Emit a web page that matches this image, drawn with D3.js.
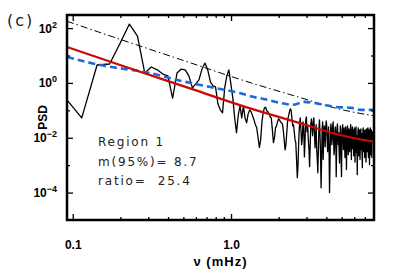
<!DOCTYPE html>
<html>
<head>
  <meta charset="utf-8">
  <title>PSD Region 1</title>
  <script src="https://d3js.org/d3.v7.min.js"></script>
</head>

<style>
body { margin: 0; background: white; }
text { font-family: "Liberation Sans", Arial, sans-serif; }
.ticklab { font-size: 12px; font-weight: bold; }
.note { font-family: "DejaVu Sans", sans-serif; font-size: 12px; fill: #222; white-space: pre; letter-spacing: 1.8px; }
</style>

<body>
</body>
<script>

  // frequency grid of the spectrum (mHz): first bin index and bin width
  var firstBin = 3;
  var binWidth = 0.0285;

  // observed PSD, one value per frequency bin
  var psd = [
    0.40, 0.053, 4.5, 4.9, 28.5, 140, 51, 2.3, 3.8, 3.0, 2.1, 1.8, 0.28, 2.3, 3.2, 3.0, 1.8,
    0.66, 0.92, 1.29, 3.2, 5.3, 2.97, 1.09, 0.78, 0.72, 0.17,
    0.104, 0.081, 0.66, 1.8, 2.97, 0.92, 0.285, 0.053, 0.0152, 0.069,
    0.146, 0.053, 0.146, 0.053, 0.035, 0.074, 0.104, 0.088, 0.063, 0.045,
    0.030, 0.023, 0.010, 0.0044, 0.0085, 0.038, 0.081, 0.123, 0.13, 0.096,
    0.088, 0.074, 0.058, 0.053, 0.0195, 0.0066, 0.010, 0.023, 0.027, 0.038,
    0.049, 0.045, 0.038, 0.035, 0.033, 0.0195, 0.0085, 0.0036, 0.0056, 0.0165,
    0.045, 0.063, 0.088, 0.113, 0.104, 0.053, 0.027, 0.030, 0.0165, 0.0085,
    0.0066, 0.0016, 0.00035, 0.00105, 0.0085,
    0.030, 0.053, 0.0195, 0.0056, 0.010,
    0.038, 0.023, 0.0020, 0.0085, 0.045,
    0.058, 0.0165, 0.027, 0.0085, 0.0037,
    0.00088, 0.0056, 0.032, 0.049, 0.023,
    0.0118, 0.038, 0.053, 0.018, 0.0043,
    0.010, 0.030, 0.0037, 0.0016, 0.00053,
    0.0037, 0.023, 0.045, 0.0129, 0.0024,
    0.00015, 0.0016, 0.0195, 0.038, 0.0016,
    0.0085, 0.027, 0.015, 0.0047, 0.023,
    0.041, 0.030, 0.0085, 0.0031, 0.0129,
    0.025, 0.0037, 0.0001, 0.00104, 0.0165,
    0.032, 0.0195, 0.0056, 0.010, 0.027,
    0.038, 0.0085, 0.0024, 0.0043, 0.018,
    0.025, 0.0129, 0.00038, 0.0037, 0.023,
    0.032, 0.010, 0.0056, 0.015, 0.0037,
    0.0012, 0.0085, 0.027, 0.018, 0.0016,
    0.00038, 0.0072, 0.021, 0.030, 0.010,
    0.0037, 0.014, 0.023, 0.0056, 0.0019,
    0.0085, 0.025, 0.0129, 0.00069, 0.0043,
    0.018, 0.027, 0.0072, 0.0024, 0.010,
    0.021, 0.0109, 0.0031, 0.0051, 0.0195,
    0.030, 0.0078, 0.0016, 0.0066, 0.0165,
    0.025, 0.0040, 0.010, 0.0195, 0.0022,
    0.0056, 0.023, 0.014, 0.0013, 0.0037,
    0.018, 0.025, 0.0061, 0.0028, 0.0118,
    0.00045, 0.0037, 0.015, 0.023, 0.0072,
    0.0022, 0.0092, 0.0195, 0.0118, 0.0016,
    0.0047, 0.0165, 0.021, 0.0037, 0.0078,
    0.014, 0.0024, 0.00081, 0.0085, 0.0195,
    0.023, 0.0066, 0.0031, 0.0109, 0.018,
    0.0019, 0.0056, 0.0195, 0.0129, 0.0040,
    0.0013, 0.0078, 0.021, 0.015, 0.0031,
    0.0051, 0.0165, 0.023, 0.0037, 0.0019,
    0.0109, 0.0195, 0.0056, 0.00104, 0.0085,
    0.018, 0.023, 0.0043, 0.0024, 0.0118,
    0.0195, 0.0072, 0.0019, 0.0129, 0.0165,
    0.0085
  ];

  // fitted background (red)
  var fitFreq = [0.092, 0.217, 0.516, 1.23, 2.69, 4.80, 8.0];
  var fitPsd  = [20.4, 3.8, 0.715, 0.134, 0.035, 0.0129, 0.0072];

  // 95% confidence level (dash-dot)
  var confFreq = [0.092, 0.217, 0.516, 1.23, 2.69, 4.80, 8.0];
  var confPsd  = [177, 33, 6.2, 1.17, 0.30, 0.112, 0.063];

  // blue dashed curve
  var blueFreq = [0.092, 0.149, 0.306, 0.516, 0.786, 1.13, 1.38, 1.71, 2.04, 2.46, 2.89, 3.34, 3.86, 4.47, 5.8, 6.6, 8.0];
  var bluePsd  = [8.8, 4.5, 2.31, 1.09, 0.66, 0.43, 0.31, 0.24, 0.187, 0.159, 0.203, 0.187, 0.159, 0.134, 0.123, 0.104, 0.104];

  var xMajor = [0.1, 1];
  var xMinor = [0.2, 0.3, 0.4, 0.5, 0.6, 0.7, 0.8, 0.9, 2, 3, 4, 5, 6, 7];
  var yMajor = [1e2, 1e0, 1e-2, 1e-4];
  var yMinor = [1e1, 1e-1, 1e-3];
  var yExp = {"100": "2", "1": "0", "0.01": "\u22122", "0.0001": "\u22124"};

  var noteLines = ["Region 1", "m(95%)= 8.7", "ratio=  25.4"];

  var W = 393, H = 275;
  var margin = {top: 15, right: 19, bottom: 55, left: 67}
    , width = W - margin.left - margin.right
    , height = H - margin.top - margin.bottom;

  var xScale = d3.scaleLog().domain([0.092, 8]).range([0, width]);
  var yScale = d3.scaleLog().domain([1e-5, 300]).range([height, 0]);

  var svg = d3.select('body').append('svg')
    .attr('width', W)
    .attr('height', H)
    .append('g')
      .attr('transform', 'translate(' + margin.left + ',' + margin.top + ')');

  svg.append('clipPath').attr('id', 'clip')
    .append('rect').attr('width', width).attr('height', height);

  var spectrum = psd.map(function(v, i) { return {f: (firstBin + i) * binWidth, v: v}; });
  function pairs(fs, vs) { return fs.map(function(f, i) { return {f: f, v: vs[i]}; }); }

  var line = d3.line()
    .x(function(d) { return xScale(d.f); })
    .y(function(d) { return yScale(d.v); });
  var smooth = d3.line()
    .x(function(d) { return xScale(d.f); })
    .y(function(d) { return yScale(d.v); })
    .curve(d3.curveMonotoneX);

  var plot = svg.append('g').attr('clip-path', 'url(#clip)');

  plot.append('path')
    .datum(spectrum)
    .attr('d', line)
    .attr('fill', 'none')
    .attr('stroke', '#000')
    .attr('stroke-width', 1.3)
    .attr('stroke-linejoin', 'round');

  plot.append('path')
    .datum(pairs(confFreq, confPsd))
    .attr('d', smooth)
    .attr('fill', 'none')
    .attr('stroke', '#000')
    .attr('stroke-width', 1)
    .attr('stroke-dasharray', '7,3,1.5,3');

  plot.append('path')
    .datum(pairs(blueFreq, bluePsd))
    .attr('d', smooth)
    .attr('fill', 'none')
    .attr('stroke', '#1f6ad8')
    .attr('stroke-width', 2.6)
    .attr('stroke-dasharray', '7,4');

  plot.append('path')
    .datum(pairs(fitFreq, fitPsd))
    .attr('d', smooth)
    .attr('fill', 'none')
    .attr('stroke', '#c80a0a')
    .attr('stroke-width', 2.2);

  // axes with inward ticks
  function axisGroup(axis, tx, ty) {
    var g = svg.append('g').attr('transform', 'translate(' + tx + ',' + ty + ')').call(axis);
    g.select('.domain').remove();
    g.selectAll('line').attr('stroke', '#000').attr('stroke-width', 1.3);
    return g;
  }

  var xb = axisGroup(d3.axisBottom(xScale).tickValues(xMajor).tickSize(-6).tickPadding(20)
    .tickFormat(d3.format('.1f')), 0, height);
  xb.selectAll('text').attr('class', 'ticklab').attr('fill', '#000');
  xb.attr('font-size', null).attr('font-family', null);
  axisGroup(d3.axisBottom(xScale).tickValues(xMinor).tickSize(-3).tickFormat(''), 0, height);
  axisGroup(d3.axisTop(xScale).tickValues(xMajor).tickSize(-6).tickFormat(''), 0, 0);
  axisGroup(d3.axisTop(xScale).tickValues(xMinor).tickSize(-3).tickFormat(''), 0, 0);

  axisGroup(d3.axisLeft(yScale).tickValues(yMajor).tickSize(-6).tickFormat(''), 0, 0);
  axisGroup(d3.axisLeft(yScale).tickValues(yMinor).tickSize(-3).tickFormat(''), 0, 0);
  axisGroup(d3.axisRight(yScale).tickValues(yMajor).tickSize(-6).tickFormat(''), width, 0);
  axisGroup(d3.axisRight(yScale).tickValues(yMinor).tickSize(-3).tickFormat(''), width, 0);

  // y tick labels with superscript exponents
  yMajor.forEach(function(v) {
    var t = svg.append('text')
      .attr('class', 'ticklab')
      .attr('x', -10)
      .attr('y', yScale(v) + 4.5)
      .attr('text-anchor', 'end');
    t.append('tspan').text('10');
    t.append('tspan').attr('dy', -5).style('font-size', '9px').text(yExp[String(v)]);
  });

  // frame
  svg.append('rect')
    .attr('width', width)
    .attr('height', height)
    .attr('fill', 'none')
    .attr('stroke', '#000')
    .attr('stroke-width', 2.5);

  // axis titles
  svg.append('text')
    .attr('x', width / 2)
    .attr('y', height + 46)
    .attr('text-anchor', 'middle')
    .style('font-size', '13px')
    .style('font-weight', 'bold')
    .style('letter-spacing', '1px')
    .text('\u03bd (mHz)');

  svg.append('text')
    .attr('transform', 'translate(' + (-20) + ',' + (height / 2) + ') rotate(-90)')
    .attr('text-anchor', 'middle')
    .style('font-size', '12px')
    .style('font-weight', 'bold')
    .text('PSD');

  // panel letter
  svg.append('text')
    .attr('x', 7 - margin.left)
    .attr('y', 26 - margin.top)
    .style('font-family', '"DejaVu Sans", sans-serif')
    .style('font-size', '16px')
    .style('letter-spacing', '2px')
    .attr('fill', '#222')
    .text('(c)');

  // annotation
  noteLines.forEach(function(s, i) {
    svg.append('text')
      .attr('class', 'note')
      .attr('x', 98 - margin.left)
      .attr('y', 146 - margin.top + i * 19.5)
      .text(s);
  });

</script>
</html>
